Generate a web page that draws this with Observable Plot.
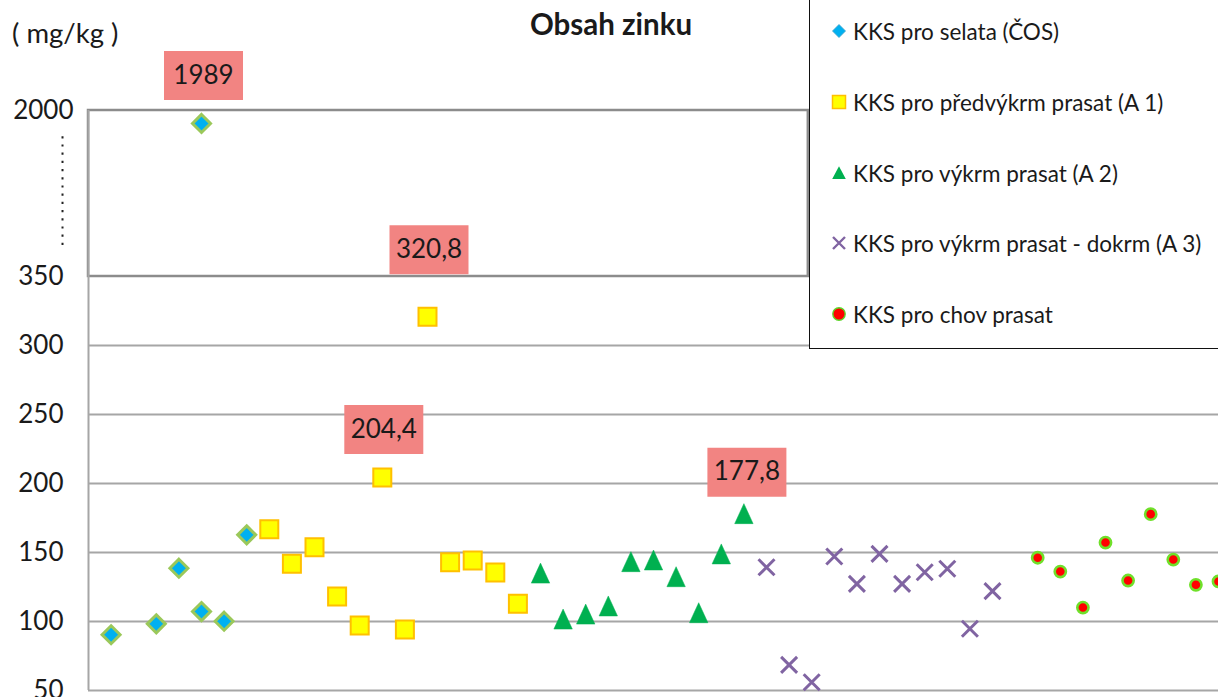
<!DOCTYPE html>
<html>
<head>
<meta charset="utf-8">
<script src="https://cdn.jsdelivr.net/npm/d3@7"></script>
<script src="https://cdn.jsdelivr.net/npm/@observablehq/plot@0.6"></script>
<style>
  html, body { margin: 0; padding: 0; background: #fff; overflow: hidden; }
  #wrap { position: relative; width: 1218px; height: 697px; overflow: hidden; font-family: Lato, "Open Sans", sans-serif; color: #1a1a1a; }
  #chart { position: absolute; left: 0; top: 0; }
  #title { position: absolute; left: 0; width: 1222px; top: 6px; text-align: center; font-weight: bold; font-size: 29.5px; }
  #unit { position: absolute; left: 12px; top: 16px; font-size: 27.5px; }
  #legend { position: absolute; left: 809px; top: -1px; width: 430px; height: 349px; background: #fff;
            border-left: 1px solid #111; border-bottom: 1px solid #111; }
  .row { position: absolute; left: 20px; height: 30px; display: flex; align-items: center; font-size: 22.5px; white-space: nowrap; }
  .row svg { width: 18px; height: 18px; margin-right: 5px; }
</style>
</head>
<body>
<div id="wrap">
  <div id="chart"></div>
  <div id="title">Obsah zinku</div>
  <div id="unit">( mg/kg )</div>
  <div id="legend"></div>
</div>
<script>
// ---- data ----
const seriesNames = [
  "KKS pro selata (ČOS)",
  "KKS pro předvýkrm prasat (A 1)",
  "KKS pro výkrm prasat (A 2)",
  "KKS pro výkrm prasat - dokrm (A 3)",
  "KKS pro chov prasat"
];
const samplesCOS = [0, 2, 3, 4, 4, 5, 6];
const zincCOS = [90.4, 98.3, 138.6, 1989, 107.2, 100.2, 162.8];
const samplesA1 = [7, 8, 9, 10, 11, 12, 13, 14, 15, 16, 17, 18];
const zincA1 = [166.9, 141.8, 153.8, 118.1, 97.1, 204.4, 94.2, 320.8, 143, 144.2, 135.5, 112.8];
const samplesA2 = [19, 20, 21, 22, 23, 24, 25, 26, 27, 28];
const zincA2 = [134.7, 101.4, 105, 110.9, 143, 144.2, 132.1, 106, 148.6, 177.8];
const samplesA3 = [29, 30, 31, 32, 33, 34, 35, 36, 37, 38, 39];
const zincA3 = [139.3, 68.6, 56, 147.1, 127.3, 149, 127.3, 135.7, 138.2, 94.7, 122];
const samplesChov = [41, 42, 43, 44, 45, 46, 47, 48, 49];
const zincChov = [146.2, 136.2, 110.1, 157.2, 129.7, 177.8, 144.9, 126.6, 129];
const labelSamples = [4, 14, 12, 28];
const labelValues = [1989, 320.8, 204.4, 177.8];
const labelTexts = ["1989", "320,8", "204,4", "177,8"];
const yTicksLower = [50, 100, 150, 200, 250, 300, 350];
const yTicksUpper = [2000];
const gridValues = [50, 100, 150, 200, 250, 300];

// ---- symbols ----
const diamondSym = {draw(c) { c.moveTo(0, -9); c.lineTo(9, 0); c.lineTo(0, 9); c.lineTo(-9, 0); c.closePath(); }};
const squareSym = {draw(c) { c.rect(-9, -9, 18, 18); }};
const triangleSym = {draw(c) { c.moveTo(0, -10.5); c.lineTo(9.2, 9.5); c.lineTo(-9.2, 9.5); c.closePath(); }};
const timesSym = {draw(c) { c.moveTo(-8, -8); c.lineTo(8, 8); c.moveTo(-8, 8); c.lineTo(8, -8); }};
const labelBoxSym = {draw(c) { c.rect(-39.5, -24.5, 79, 49); }};

const pts = (s, v) => s.map((x, i) => ({x, y: v[i]}));
const labelDy = [-48, -67, -48, -42];
const labelDx = [2, 1.5, 1.5, 3];
const grid = "#a6a6a6";

const labelMarks = labelTexts.flatMap((t, i) => {
  const d = [{x: labelSamples[i], y: labelValues[i], t}];
  return [
    Plot.dot(d, {x: "x", y: "y", symbol: labelBoxSym, fill: "#f28482", stroke: "none", dx: labelDx[i], dy: labelDy[i]}),
    Plot.text(d, {x: "x", y: "y", text: "t", fontSize: 26, fill: "#1a1a1a", dx: labelDx[i], dy: labelDy[i]})
  ];
});

const chart = Plot.plot({
  width: 1218,
  height: 697,
  marginLeft: 88,
  marginRight: 0,
  marginTop: 110,
  marginBottom: 7,
  style: {fontFamily: "Lato, 'Open Sans', sans-serif", color: "#1a1a1a", background: "#fff"},
  x: {type: "linear", domain: [-1, 49], range: [88, 1218], axis: null},
  y: {type: "linear", domain: [50, 350, 1900, 2000], range: [690, 276, 228, 110]},
  marks: [
    Plot.ruleY(gridValues, {stroke: grid, strokeWidth: 2}),
    Plot.rect([{x1: -1, x2: 30.85, y1: 350, y2: 2000}], {x1: "x1", x2: "x2", y1: "y1", y2: "y2", fill: "none", stroke: "#8c8c8c", strokeWidth: 2.5}),
    Plot.ruleX([-1], {y1: 50, y2: 2000, stroke: grid, strokeWidth: 2}),
    Plot.ruleX([-2.15], {y1: 1351, y2: 1980, stroke: "#222", strokeWidth: 2, strokeDasharray: "2.2 6"}),
    Plot.axisY(yTicksLower, {tickSize: 0, tickPadding: 25, fontSize: 26, label: null, tickFormat: d => String(d)}),
    Plot.axisY(yTicksUpper, {tickSize: 0, tickPadding: 15, fontSize: 26, label: null, tickFormat: d => String(d)}),
    Plot.dot(pts(samplesCOS, zincCOS), {x: "x", y: "y", symbol: diamondSym, fill: "#00b0f0", stroke: "#9bc85a", strokeWidth: 3}),
    Plot.dot(pts(samplesA1, zincA1), {x: "x", y: "y", symbol: squareSym, fill: "#ffff00", stroke: "#ffc000", strokeWidth: 2}),
    Plot.dot(pts(samplesA2, zincA2), {x: "x", y: "y", symbol: triangleSym, fill: "#00b050", stroke: "#00b050", strokeWidth: 0.5}),
    Plot.dot(pts(samplesA3, zincA3), {x: "x", y: "y", symbol: timesSym, fill: "none", stroke: "#8064a2", strokeWidth: 3}),
    Plot.dot(pts(samplesChov, zincChov), {x: "x", y: "y", r: 5.6, fill: "#ff0000", stroke: "#6fe02a", strokeWidth: 2.6}),
    ...labelMarks
  ]
});
document.getElementById("chart").appendChild(chart);

// ---- legend ----
const legendIcons = [
  '<svg viewBox="-9 -9 18 18"><path d="M0,-6.5L6.5,0L0,6.5L-6.5,0Z" fill="#00b0f0" stroke="#3aa0c8" stroke-width="0.8"/></svg>',
  '<svg viewBox="-9 -9 18 18"><rect x="-6.5" y="-6.5" width="13" height="13" fill="#ffff00" stroke="#ffc000" stroke-width="1.5"/></svg>',
  '<svg viewBox="-9 -9 18 18"><path d="M0,-6.8L6.8,6L-6.8,6Z" fill="#00b050"/></svg>',
  '<svg viewBox="-9 -9 18 18"><path d="M-6,-6L6,6M-6,6L6,-6" stroke="#8064a2" stroke-width="2.4" fill="none"/></svg>',
  '<svg viewBox="-9 -9 18 18"><circle r="6.2" fill="#ff0000" stroke="#5cd62a" stroke-width="1.4"/></svg>'
];
const rowCenters = [31, 102, 173, 243, 314];
const legend = document.getElementById("legend");
seriesNames.forEach((name, i) => {
  const row = document.createElement("div");
  row.className = "row";
  row.style.top = (rowCenters[i] + 1 - 15) + "px";
  row.innerHTML = legendIcons[i] + "<span>" + name + "</span>";
  legend.appendChild(row);
});
</script>
</body>
</html>
